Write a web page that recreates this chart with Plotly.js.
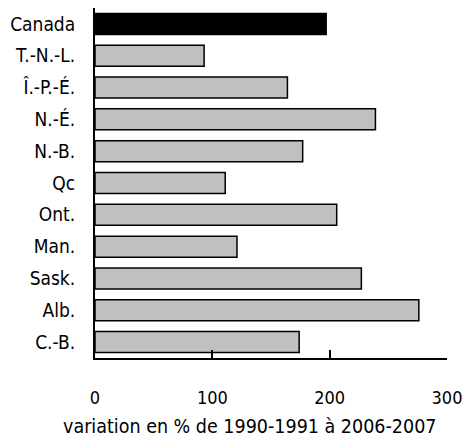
<!DOCTYPE html>
<html>
<head>
<meta charset="utf-8">
<script src="https://cdn.plot.ly/plotly-3.0.1.min.js"></script>
<style>
html, body { margin: 0; padding: 0; background: #fff; }
#chart { width: 462px; height: 438px; }
</style>
</head>
<body>
<div id="chart"></div>
<script>
// Categories from top to bottom
var categories = ["Canada", "T.-N.-L.", "Î.-P.-É.", "N.-É.", "N.-B.", "Qc", "Ont.", "Man.", "Sask.", "Alb.", "C.-B."];
// Percentage change from 1990-1991 to 2006-2007
var values = [197, 93, 164, 239, 177, 111, 206, 121, 227, 276, 174];
var xTicks = [0, 100, 200, 300];
var xTitle = "variation en % de 1990-1991 à 2006-2007";

var fillColors = categories.map(function (c) { return c === "Canada" ? "#000000" : "#c0c0c0"; });

var FONT = "'DejaVu Sans Condensed', 'DejaVu Sans', sans-serif";

var trace = {
  type: "bar",
  orientation: "h",
  x: values,
  y: categories,
  marker: { color: fillColors, line: { color: "#000000", width: 1.5 } },
  hoverinfo: "none"
};

var layout = {
  width: 462,
  height: 438,
  margin: { l: 95, r: 15, t: 8, b: 80 },
  paper_bgcolor: "#ffffff",
  plot_bgcolor: "#ffffff",
  showlegend: false,
  bargap: 0.34,
  font: { family: FONT, size: 18, color: "#000000" },
  xaxis: {
    range: [0, 300],
    tickvals: xTicks,
    ticktext: xTicks.map(String),
    ticks: "inside",
    ticklen: 8,
    tickwidth: 2,
    tickcolor: "#000000",
    showline: true,
    linecolor: "#000000",
    linewidth: 2,
    showgrid: false,
    zeroline: false,
    fixedrange: true,
    ticklabelstandoff: 22,
    ticklabeloverflow: "allow",
    tickfont: { family: FONT, size: 18, color: "#000000" }
  },
  yaxis: {
    type: "category",
    autorange: "reversed",
    showline: true,
    linecolor: "#000000",
    linewidth: 2,
    ticks: "",
    showgrid: false,
    zeroline: false,
    fixedrange: true,
    ticklabelstandoff: 14,
    tickfont: { family: FONT, size: 19, color: "#000000" }
  },
  annotations: [{
    text: xTitle,
    xref: "paper", yref: "paper",
    x: 0.44, y: -0.197,
    xanchor: "center", yanchor: "middle",
    showarrow: false,
    font: { family: FONT, size: 19.5, color: "#000000" }
  }]
};

Plotly.newPlot("chart", [trace], layout, { staticPlot: true, displayModeBar: false });
</script>
</body>
</html>
